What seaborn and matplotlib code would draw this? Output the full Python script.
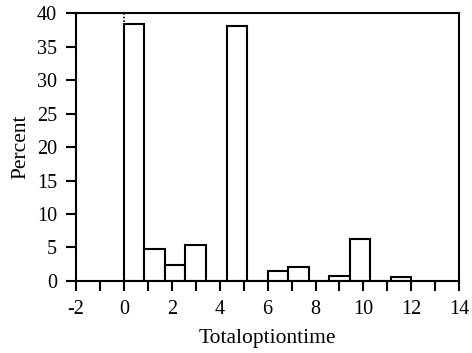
import numpy as np
import pandas as pd
import matplotlib
matplotlib.use("Agg")
import matplotlib.pyplot as plt
from matplotlib.ticker import MultipleLocator
import seaborn as sns

# Histogram bins of total option time (14 equal bins from 0 to 12)
bin_edges = list(np.linspace(0, 12, 15))
percent = [38.3, 4.8, 2.4, 5.3, 0.0, 38.0, 0.0, 1.5, 2.1, 0.0, 0.8, 6.3, 0.0, 0.6]
x_ticks = [-2, 0, 2, 4, 6, 8, 10, 12, 14]
y_ticks = [0, 5, 10, 15, 20, 25, 30, 35, 40]

df = pd.DataFrame({
    "Totaloptiontime": [(a + b) / 2 for a, b in zip(bin_edges[:-1], bin_edges[1:])],
    "Percent": percent,
})

sns.set_theme(style="ticks")
plt.rcParams["font.family"] = ["Liberation Serif", "DejaVu Serif"]
plt.rcParams["axes.unicode_minus"] = False

fig = plt.figure(figsize=(4.72, 3.53), dpi=100)
ax = fig.add_axes([0.161, 0.204, 0.812, 0.759])

sns.histplot(data=df, x="Totaloptiontime", weights="Percent", bins=bin_edges,
             stat="count", color="white", edgecolor="black", linewidth=1.5,
             alpha=1.0, ax=ax)

# small dotted marker above the first bar
ax.plot([0, 0], [38.7, 40], linestyle=(0, (1, 1.2)), color="black", linewidth=1.2)

ax.set_xlim(-2, 14)
ax.set_ylim(0, 40)
ax.set_xticks(x_ticks)
ax.xaxis.set_minor_locator(MultipleLocator(1))
ax.set_yticks(y_ticks)

for side in ["left", "right", "top", "bottom"]:
    ax.spines[side].set_visible(True)
    ax.spines[side].set_linewidth(1.5)
    ax.spines[side].set_color("black")

ax.tick_params(axis="both", which="both", direction="out", length=7, width=1.5,
               color="black", labelsize=14.5, labelcolor="black")
ax.tick_params(axis="x", which="both", pad=7)
ax.tick_params(axis="y", which="both", pad=6.5)
ax.tick_params(axis="y", which="minor", left=False)

ax.set_xlabel("Totaloptiontime", fontsize=15.5, color="black", labelpad=7)
ax.set_ylabel("Percent", fontsize=15.5, color="black", labelpad=5)

fig.savefig("out.png", dpi=100, facecolor="white")
